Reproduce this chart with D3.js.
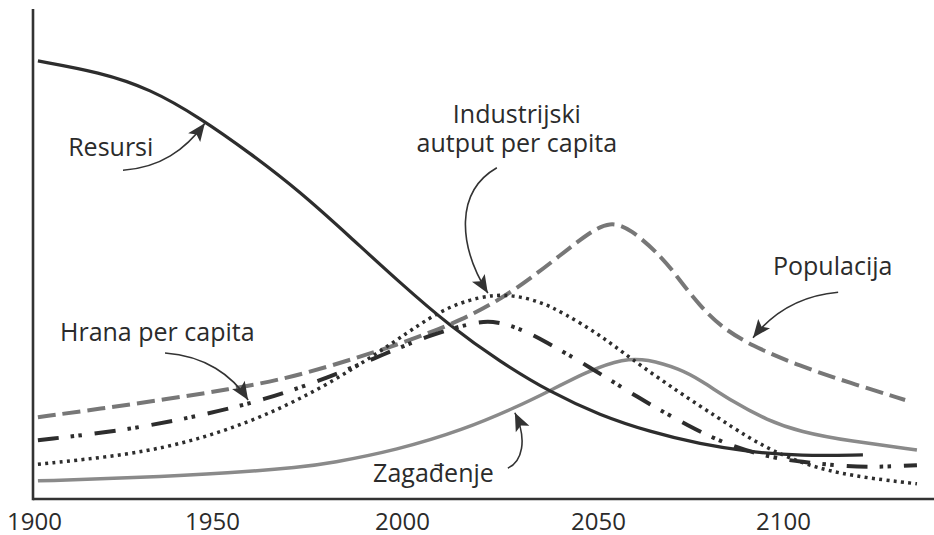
<!DOCTYPE html>
<html lang="hr">
<head>
    <meta charset="utf-8">
    <title>Granice rasta</title>
    <style>
        html,
        body {
            margin: 0;
            padding: 0;
            background: #fff;
        }

        #chart text {
            font-family: "Open Sans", sans-serif;
            fill: #2b2b2b;
        }

        .axis-line {
            stroke: #333;
            stroke-width: 2.6px;
        }

        .arrow {
            fill: none;
            stroke: #333;
            stroke-width: 1.6px;
        }
    </style>
    <script src="https://d3js.org/d3.v7.min.js"></script>
</head>

<body>
    <div id="chart"></div>

    <script>
        // values: [year, value], value 0..100 of the vertical axis
        var resursi = [[1901.1, 89.4], [1918.5, 87.1], [1932.6, 83.7], [1946.6, 77.8], [1960, 70.6],
            [1973.2, 62.7], [1986.3, 53.5], [1999.5, 44.1], [2012.2, 35.3], [2025, 28.0], [2037.8, 21.8],
            [2050.5, 17.1], [2064.1, 13.7], [2077.6, 11.2], [2091.1, 9.6], [2104.6, 8.8], [2121.6, 9.0]];

        var populacija = [[1901.1, 16.7], [1918.5, 18.4], [1937.4, 20.4], [1954.7, 22.4], [1967.9, 24.3],
            [1981.1, 27.1], [1998.7, 31.4], [2015.6, 36.5], [2028.3, 42.2], [2041.1, 50.2], [2048, 54.5],
            [2053.2, 56.6], [2058.6, 55.3], [2067.6, 49.2], [2072.2, 44.5], [2077.6, 39.4], [2083, 35.3],
            [2091.1, 31.4], [2104.6, 27.1], [2118.1, 23.7], [2133, 20.2]];

        var industrija = [[1901.1, 7.1], [1927, 9.0], [1945.8, 12.0], [1963.4, 16.7], [1981.1, 23.5],
            [1998.7, 32.4], [2009.7, 38.6], [2019.9, 41.4], [2027.6, 41.8], [2035.2, 40.3], [2041.1, 38.0],
            [2050.5, 33.5], [2058.6, 28.8], [2072.2, 21.6], [2082.2, 16.7], [2090.3, 12.7], [2097.3, 9.8],
            [2106.5, 6.9], [2118.1, 4.7], [2136.2, 3.1]];

        var hrana = [[1901.1, 12.0], [1927, 14.1], [1950.3, 17.6], [1963.4, 20.2], [1978.4, 24.1],
            [1992.4, 28.6], [2007.1, 33.5], [2017.3, 35.8], [2023, 36.5], [2030.1, 34.8], [2036, 32.4],
            [2048, 26.9], [2060.5, 20.8], [2074.9, 14.7], [2085.7, 10.8], [2097.3, 8.4], [2104.6, 7.6],
            [2116.2, 6.7], [2125.4, 6.5], [2136.2, 6.9]];

        var zagadjenje = [[1901.1, 3.7], [1927.8, 4.3], [1955.5, 5.3], [1973.2, 6.5], [1981.1, 7.3],
            [1998.7, 10.0], [2015.6, 14.1], [2029.3, 18.8], [2037, 21.8], [2048, 26.3], [2056.8, 28.6],
            [2063.2, 28.6], [2072.2, 26.5], [2077.6, 24.3], [2086.5, 19.8], [2095.7, 16.1], [2104.6, 13.7],
            [2118.1, 11.8], [2136.2, 10.0]];

        var tickYears = [1900, 1950, 2000, 2050, 2100];
        // the printed year labels are not evenly spaced, so the scale follows them
        var tickPositions = [34, 212, 402, 598, 783];

        // labels and their arrows, also in [year, value]
        var labels = [
            { lines: ["Resursi"], at: [1909.6, 70.0], anchor: "start",
              arrow: [[1925, 67.1], [1935.4, 67.6], [1942.4, 71.2], [1948, 76.7]] },
            { lines: ["Industrijski", "autput per capita"], at: [2029.3, 76.7], anchor: "middle",
              arrow: [[2024.2, 67.6], [2013.5, 62.7], [2014.3, 51.8], [2021.9, 42.0]] },
            { lines: ["Populacija"], at: [2097.3, 45.7], anchor: "start",
              arrow: [[2114.9, 42.2], [2106, 41.6], [2097.8, 38.6], [2091.9, 32.9]] },
            { lines: ["Hrana per capita"], at: [1907.3, 32.2], anchor: "start",
              arrow: [[1936.8, 29.8], [1948, 29.2], [1955.3, 25.3], [1959.5, 20.2]] },
            { lines: ["Zagađenje"], at: [1992.4, 3.5], anchor: "start",
              arrow: [[2027, 6.3], [2030.6, 7.6], [2032.1, 12.0], [2028.8, 17.6]] }
        ];

        var width = 934,
            height = 535;

        var x = d3.scaleLinear().domain(tickYears).range(tickPositions);
        var y = d3.scaleLinear().domain([0, 100]).range([499, 9]);

        var svg = d3.select("#chart").append("svg")
            .attr("width", width)
            .attr("height", height);

        // arrow head
        svg.append("defs").append("marker")
            .attr("id", "head")
            .attr("markerUnits", "userSpaceOnUse")
            .attr("viewBox", "-19 -8 20 16")
            .attr("markerWidth", 20)
            .attr("markerHeight", 16)
            .attr("refX", 0)
            .attr("refY", 0)
            .attr("orient", "auto")
            .append("path")
            .attr("d", "M0,0L-18,-7.5L-14,0L-18,7.5Z")
            .attr("fill", "#333");

        var series = [
            { data: zagadjenje, color: "#8a8a8a", width: 3.5, dash: null },
            { data: resursi, color: "#2d2d2d", width: 3.2, dash: null },
            { data: populacija, color: "#777", width: 4, dash: "18,7" },
            { data: hrana, color: "#2d2d2d", width: 4, dash: "21,12,3.5,4.3,3.5,13" },
            { data: industrija, color: "#2d2d2d", width: 3.5, dash: "3,4.3" }
        ];

        // smooth hand-drawn look
        var line = d3.line()
            .x(function(d) { return x(d[0]); })
            .y(function(d) { return y(d[1]); })
            .curve(d3.curveBasis);

        svg.append("g")
            .selectAll("path")
            .data(series)
            .enter().append("path")
            .attr("d", function(d) { return line(d.data); })
            .attr("fill", "none")
            .attr("stroke", function(d) { return d.color; })
            .attr("stroke-width", function(d) { return d.width; })
            .attr("stroke-dasharray", function(d) { return d.dash; });

        // axes: plain lines, no ticks
        svg.append("line")
            .attr("class", "axis-line")
            .attr("x1", 33).attr("x2", 33)
            .attr("y1", y(100)).attr("y2", y(0) + 1.3);
        svg.append("line")
            .attr("class", "axis-line")
            .attr("x1", 33).attr("x2", width)
            .attr("y1", y(0)).attr("y2", y(0));

        var xAxis = svg.append("g")
            .attr("transform", "translate(0," + y(0) + ")")
            .call(d3.axisBottom(x).tickValues(tickYears).tickFormat(d3.format("d")).tickSize(0).tickPadding(14));
        xAxis.select(".domain").remove();
        xAxis.selectAll("text")
            .style("font-size", "24px")
            .style("font-family", "'Open Sans', sans-serif")
            .attr("fill", "#222");

        // annotations
        var ann = svg.append("g");
        var arrowPath = function(p) {
            return "M" + x(p[0][0]) + "," + y(p[0][1]) +
                "C" + x(p[1][0]) + "," + y(p[1][1]) + " " +
                x(p[2][0]) + "," + y(p[2][1]) + " " +
                x(p[3][0]) + "," + y(p[3][1]);
        };

        labels.forEach(function(l) {
            var t = ann.append("text")
                .attr("x", x(l.at[0]))
                .attr("y", y(l.at[1]))
                .attr("text-anchor", l.anchor)
                .style("font-size", "25px");
            l.lines.forEach(function(s, i) {
                t.append("tspan")
                    .attr("x", x(l.at[0]))
                    .attr("dy", i == 0 ? 0 : 29)
                    .text(s);
            });
            ann.append("path")
                .attr("class", "arrow")
                .attr("d", arrowPath(l.arrow))
                .attr("marker-end", "url(#head)");
        });
    </script>
</body>

</html>
